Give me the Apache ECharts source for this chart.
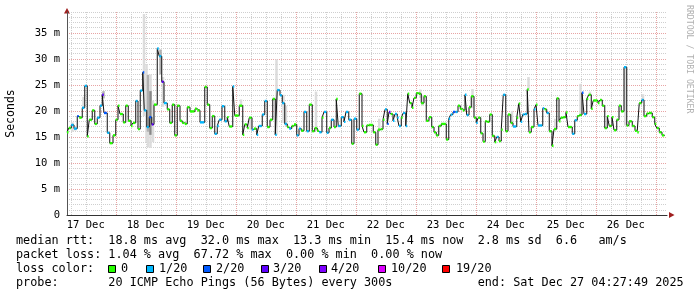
<!DOCTYPE html>
<html><head><meta charset="utf-8">
<script src="https://cdn.jsdelivr.net/npm/echarts@6/dist/echarts.min.js"></script>
<style>html,body{margin:0;padding:0;background:#fff}#c{width:697px;height:297px}</style>
</head><body><div id="c"></div>
<script>
// ---- data (hours since 17 Dec 00:00, median rtt in ms, loss level index) ----
const startHour = 4.5;   // plot starts 17 Dec ~04:30
const endPlotHour = 244.5;
const medianHours = [4.5,5.2,6.2,7.3,8.6,9.4,10.6,11.6,12.6,13.4,14.6,15.6,16.6,17.7,18.6,19.3,20.6,21.6,22.9,24.0,24.9,25.7,27.0,28.0,29.0,30.1,30.9,32.0,32.9,33.8,34.8,35.4,36.4,37.4,38.4,39.3,40.6,41.4,42.4,43.3,44.6,45.6,46.6,47.6,48.6,49.7,50.6,51.6,52.6,53.7,55.7,56.6,57.7,59.6,60.6,61.6,62.6,63.6,
64.6,65.4,66.5,67.6,68.6,69.4,70.8,71.6,73.4,74.8,75.6,76.6,77.4,78.5,79.3,80.4,81.2,82.6,83.6,84.6,85.7,86.8,87.8,88.6,89.7,90.6,91.6,92.6,93.4,94.4,95.3,96.4,97.3,98.2,99.3,100.4,101.4,102.6,103.6,104.6,105.4,106.5,107.3,108.4,109.3,110.2,111.3,112.2,113.0,114.2,115.3,116.1,117.2,118.4,119.3,120.4,121.4,122.5,123.3,124.4,
125.2,127.0,128.0,128.9,130.0,130.9,131.7,132.6,133.3,134.0,134.9,135.7,136.6,137.3,138.2,139.0,140.0,140.8,141.6,142.5,143.3,144.2,145.3,146.2,147.3,148.2,149.3,150.4,151.3,152.2,153.2,154.2,156.2,157.2,158.0,158.9,160.0,160.9,161.8,162.8,163.7,164.4,165.3,166.2,167.3,168.2,169.0,170.0,170.9,171.8,172.6,173.6,174.6,175.6,176.4,177.3,178.2,179.0,180.0,180.9,182.0,182.9,
184.4,185.2,186.0,186.8,187.6,188.6,189.3,190.2,191.3,192.1,192.9,194.8,195.6,196.4,197.4,198.5,199.3,200.4,201.3,202.0,203.0,204.1,204.9,206.6,207.6,208.6,209.4,210.5,211.3,212.4,213.2,214.2,215.0,216.9,217.7,218.6,219.6,220.6,221.4,222.5,223.3,224.4,225.3,226.2,227.3,228.4,229.3,230.6,231.7,232.6,233.4,234.4,235.3,236.4,237.3,238.6,239.6,240.4,241.4,242.5];
const medianMs = [15.9,16.7,17.3,16.6,19.0,18.7,20.6,24.8,15.1,18.3,20.1,17.5,18.7,21.0,23.1,19.6,15.8,13.8,15.3,18.3,21.0,19.4,17.8,21.0,18.1,17.1,17.7,21.9,16.5,23.9,27.4,20.1,16.9,18.8,17.4,21.2,32.0,30.5,25.6,21.5,20.3,17.7,21.2,15.3,21.0,18.1,17.7,17.5,20.7,19.9,20.4,20.1,17.8,24.6,21.2,16.7,19.0,15.6,
17.1,18.3,20.9,18.0,18.8,17.0,24.7,19.1,21.0,15.4,17.4,16.7,18.7,16.4,16.6,15.4,17.1,19.3,21.9,16.9,18.3,22.3,15.4,24.0,23.0,21.5,17.5,16.9,16.6,17.1,17.4,15.3,16.6,16.2,19.8,16.1,21.2,16.1,16.7,16.2,15.9,18.7,19.8,15.8,16.7,18.3,16.9,22.3,17.1,18.8,17.9,19.8,18.3,13.7,18.5,16.4,23.3,17.1,15.9,17.2,
17.3,15.9,13.5,16.4,16.5,18.3,20.3,17.5,19.8,19.4,18.1,19.4,18.7,17.1,18.7,19.6,17.1,23.3,21.5,20.6,22.5,23.4,23.3,21.5,22.8,18.1,18.8,16.9,15.9,15.3,17.1,17.5,14.5,18.5,19.3,19.8,19.8,21.0,20.4,20.1,23.1,19.2,20.7,22.8,18.7,17.7,18.7,15.7,14.1,18.0,17.9,19.3,15.2,14.0,15.0,14.2,16.4,23.1,16.1,19.3,17.7,17.0,
18.7,21.4,17.9,19.3,19.4,24.1,15.9,16.9,20.3,21.2,17.2,20.5,20.3,19.6,16.1,13.3,16.5,22.4,18.0,18.7,18.8,19.7,16.9,15.6,18.2,19.0,19.2,23.5,19.4,22.3,23.1,20.4,22.0,21.5,22.1,21.0,16.7,19.0,17.1,18.8,16.3,18.3,21.0,19.9,28.4,17.2,18.0,17.1,16.2,15.9,21.5,22.1,19.0,19.5,19.6,18.8,17.5,16.7,15.9,15.3];
const medianLoss = [0,0,1,1,2,0,1,1,0,0,0,0,1,1,3,2,1,0,0,0,0,0,0,0,0,0,0,1,0,1,2,1,1,2,3,0,1,1,3,1,0,0,0,0,0,0,0,0,0,0,0,0,1,0,0,0,0,1,
1,1,1,1,0,0,1,0,0,0,0,0,0,1,0,1,1,1,1,0,0,0,1,1,1,1,1,0,1,0,0,1,1,0,1,1,0,0,0,0,1,0,1,1,0,1,0,0,1,1,1,1,1,0,1,1,0,0,0,0,
0,0,0,0,0,0,1,2,3,0,1,1,1,1,0,1,1,0,0,0,0,0,0,0,0,0,0,0,0,0,0,0,0,1,1,2,1,0,0,0,1,1,0,0,0,1,0,0,0,0,0,0,0,0,1,0,0,1,0,0,0,1,
0,0,1,1,1,0,0,0,1,0,1,1,0,1,0,0,0,0,0,0,0,0,0,1,1,0,0,2,1,0,0,0,0,0,0,0,0,0,0,0,0,0,0,0,1,0,0,0,0,0,0,1,0,0,0,0,0,0,0,0];
const endHour = 243.6;

// smoke (ping spread) bars: start hour, low ms, high ms, shade index
const smokeHours = [6.2,7.3,10.6,18.6,34.8,35.8,36.4,36.4,37.4,37.4,38.4,41.4,42.4,73.6,77.4,87.8,90.6,91.6,103.6,128.9,145.3,146.2,166.2,182.0,188.6,199.3,209.4,213.2,227.3,234.4];
const smokeLow   = [16.0,16.2,20.6,22.4,19.0,14.0,13.0,16.0,12.9,15.4,14.0,27.0,20.8,21.0,16.4,15.4,17.7,17.0,16.5,16.4,22.5,21.0,20.5,17.4,24.1,16.5,19.2,23.0,17.2,22.0];
const smokeHigh  = [17.8,17.0,22.7,23.8,38.6,29.0,27.0,26.9,27.0,23.8,22.0,31.8,26.5,22.2,18.5,29.9,23.1,21.0,23.7,18.5,24.1,23.0,24.2,20.0,26.5,18.5,25.2,23.7,28.4,23.2];
const smokeShade = [0,0,0,1,0,0,0,1,0,2,0,1,0,0,0,0,0,0,0,0,0,0,0,0,0,0,0,0,0,0];

const lossLabels = ['0','1/20','2/20','3/20','4/20','10/20','19/20'];
const lossColors = ['#26ff00','#00b8ff','#0059ff','#5e00ff','#7e00ff','#dd00ff','#ff0000'];
const shadeColors = ['#dcdcdc','#b0b0b0','#888888'];
const dayLabels = ['17 Dec','18 Dec','19 Dec','20 Dec','21 Dec','22 Dec','23 Dec','24 Dec','25 Dec','26 Dec'];
const yLabelValues = [0,5,10,15,20,25,30,35];
const yLabelTexts = ['0','5 m','10 m','15 m','20 m','25 m','30 m','35 m'];

const statLines = [
  'median rtt:  18.8 ms avg  32.0 ms max  13.3 ms min  15.4 ms now  2.8 ms sd  6.6   am/s',
  'packet loss: 1.04 % avg  67.72 % max  0.00 % min  0.00 % now',
  'loss color:',
  'probe:       20 ICMP Echo Pings (56 Bytes) every 300s            end: Sat Dec 27 04:27:49 2025'
];

// ---- build ----
const MONO = '"DejaVu Sans Mono", monospace';
const GRAY = '#cfcfcf', RED = '#e8a4a4';
const X = h => h - startHour;   // axis coordinate = hours since plot start

const n = medianHours.length;
const lineData = medianHours.map((h, i) => [X(h), medianMs[i]]);
lineData.push([X(endHour), medianMs[n - 1]]);
const blockData = medianHours.map((h, i) => [X(h), medianMs[i], medianLoss[i], X(i < n - 1 ? medianHours[i + 1] : endHour)]);
const smokeData = smokeHours.map((h, i) => [X(h), smokeLow[i], smokeHigh[i], smokeShade[i]]);

// vertical grid (every 6 h, red at midnight) and day labels at noon
const vGridData = [];
for (let h = Math.ceil(startHour / 6) * 6; h < endPlotHour; h += 6) vGridData.push([X(h), h % 24 === 0 ? 1 : 0]);
const dayLabelData = dayLabels.map((d, i) => [X(12 + 24 * i), 0, i]);

const graphics = [];
const lineY = [241, 255, 269, 283];
statLines.forEach((t, i) => graphics.push({type: 'text', x: 16, y: lineY[i], silent: true,
  style: {text: t, fill: '#000', font: '11.8px ' + MONO, verticalAlign: 'middle'}}));
const swX = [108.5, 146.5, 203.5, 261.5, 319.5, 378.5, 442.5];
const swLabelX = [121, 159, 216, 273, 331, 391, 456];
lossLabels.forEach((l, i) => {
  graphics.push({type: 'rect', shape: {x: swX[i], y: 265.5, width: 7, height: 7},
    style: {fill: lossColors[i], stroke: '#000', lineWidth: 1}});
  graphics.push({type: 'text', x: swLabelX[i], y: 269,
    style: {text: l, fill: '#000', font: '11.8px ' + MONO, verticalAlign: 'middle'}});
});
graphics.push({type: 'polygon', shape: {points: [[64, 13.5], [70, 13.5], [67, 8]]}, style: {fill: '#a02020'}});
graphics.push({type: 'polygon', shape: {points: [[669, 212], [669, 218], [674.5, 215]]}, style: {fill: '#a02020'}});
graphics.push({type: 'text', x: 689, y: 5, rotation: -Math.PI / 2,
  style: {text: 'RRDTOOL / TOBI OETIKER', fill: '#b0b0b0', font: '8.2px ' + MONO, verticalAlign: 'middle'}});

const chart = echarts.init(document.getElementById('c'), null, {renderer: 'canvas'});
chart.setOption({
  animation: false,
  backgroundColor: '#fff',
  grid: {left: 67, right: 30, top: 12, bottom: 82, containLabel: false, outerBoundsMode: 'none'},
  xAxis: {
    type: 'value', min: 0, max: X(endPlotHour), scale: true,
    axisLine: {show: true, lineStyle: {color: '#333', width: 1}},
    axisTick: {show: false}, axisLabel: {show: false}, splitLine: {show: false}
  },
  yAxis: {
    type: 'value', min: 0, max: 39, interval: 1,
    name: 'Seconds', nameLocation: 'middle', nameGap: 50,
    nameTextStyle: {color: '#000', fontFamily: MONO, fontSize: 11.5},
    axisLine: {show: true, lineStyle: {color: '#555', width: 1}},
    axisTick: {show: false},
    axisLabel: {
      margin: 7, color: '#000', fontFamily: MONO, fontSize: 10.5,
      formatter: v => { const i = yLabelValues.indexOf(Math.round(v)); return (i >= 0 && Math.abs(v - Math.round(v)) < 1e-6) ? yLabelTexts[i] : ''; }
    },
    splitLine: {show: true, lineStyle: {color: [RED, GRAY, GRAY, GRAY, GRAY], width: 1, type: [1, 1]}}
  },
  series: [
    {
      type: 'custom', name: 'vgrid', z: 0, clip: true, silent: true,
      data: vGridData,
      renderItem: (params, api) => {
        const a = api.coord([api.value(0), 0]);
        const b = api.coord([api.value(0), 39]);
        const x = Math.round(a[0]) + 0.5;
        return {type: 'line', shape: {x1: x, y1: a[1], x2: x, y2: b[1]},
          style: {stroke: api.value(1) ? RED : GRAY, lineWidth: 1, lineDash: [1, 1]}};
      }
    },
    {
      type: 'custom', name: 'days', z: 5, clip: false, silent: true,
      data: dayLabelData,
      renderItem: (params, api) => {
        const a = api.coord([api.value(0), 0]);
        return {type: 'text', x: a[0], y: a[1] + 10,
          style: {text: dayLabels[api.value(2)], fill: '#000', font: '10.5px ' + MONO, align: 'center', verticalAlign: 'middle'}};
      }
    },
    {
      type: 'custom', name: 'smoke', z: 1, clip: true, silent: true,
      data: smokeData,
      renderItem: (params, api) => {
        const a = api.coord([api.value(0), api.value(2)]);
        const b = api.coord([api.value(0) + 1, api.value(1)]);
        return {type: 'rect', shape: {x: a[0], y: a[1], width: b[0] - a[0], height: b[1] - a[1]},
          style: {fill: shadeColors[api.value(3)]}};
      }
    },
    {
      type: 'line', name: 'median', z: 2, step: 'end', symbol: 'none', silent: true,
      data: lineData, lineStyle: {color: '#111', width: 1}
    },
    {
      type: 'custom', name: 'loss', z: 3, clip: true, silent: true,
      data: blockData,
      renderItem: (params, api) => {
        const a = api.coord([api.value(0), api.value(1)]);
        const b = api.coord([api.value(3), api.value(1)]);
        return {type: 'rect', shape: {x: a[0], y: a[1] - 1.2, width: Math.max(1.5, b[0] - a[0] - 0.5), height: 2.4},
          style: {fill: lossColors[api.value(2)]}};
      }
    }
  ],
  graphic: graphics
});
</script>
</body></html>
